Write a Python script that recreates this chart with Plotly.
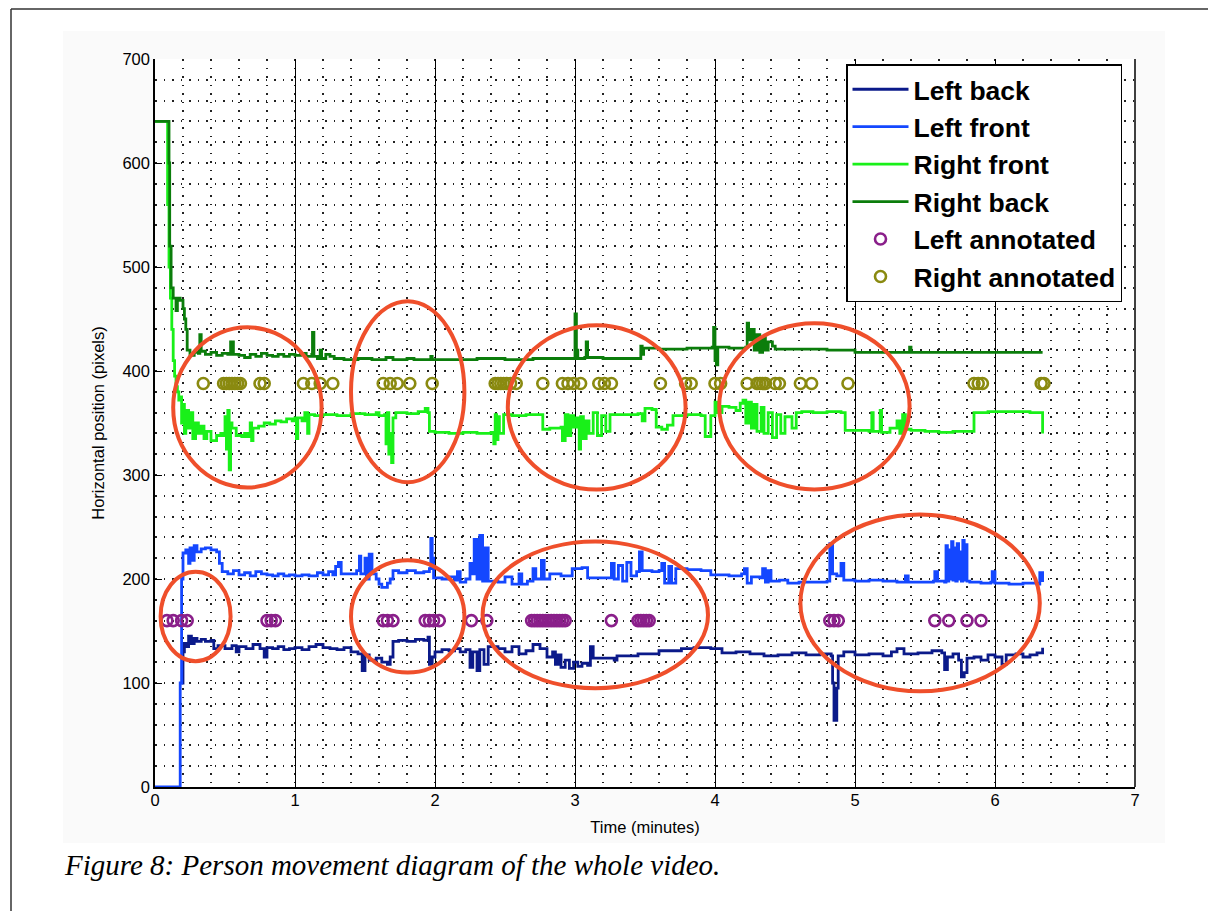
import plotly.graph_objects as go

# ---------------- data ----------------
# Right back (dark green)
rb_t = [0.00, 0.09, 0.10, 0.105, 0.115, 0.13, 0.15, 0.16, 0.18, 0.20, 0.21, 0.22, 0.23, 0.25, 0.28, 0.31, 0.32, 0.33,
        0.36, 0.40, 0.44, 0.48, 0.52, 0.54, 0.56, 0.60, 0.64, 0.68, 0.72, 0.76, 0.80, 0.84, 0.88, 0.92, 0.96, 1.00,
        1.04, 1.08, 1.12, 1.125, 1.135, 1.16, 1.18, 1.19, 1.22, 1.25, 1.28, 1.35, 1.45, 1.55, 1.65, 1.70, 1.80, 1.85,
        1.97, 1.98, 2.10, 2.30, 2.50, 2.70, 2.90, 2.99, 3.00, 3.01, 3.02, 3.07, 3.08, 3.09, 3.20, 3.35, 3.46, 3.47,
        3.48, 3.49, 3.60, 3.80, 3.98, 3.99, 4.00, 4.01, 4.02, 4.10, 4.22, 4.23, 4.24, 4.26, 4.28, 4.30, 4.32, 4.34,
        4.36, 4.38, 4.41, 4.43, 4.60, 4.80, 4.97, 5.00, 5.20, 5.38, 5.39, 5.40, 5.60, 5.90, 6.10, 6.34]
rb_v = [640, 640, 600, 520, 480, 470, 458, 470, 468, 460, 450, 440, 420, 415, 418, 417, 435, 419,
        416, 418, 415, 417, 416, 428, 416, 415, 413, 416, 414, 417, 415, 414, 416, 414, 416, 415,
        417, 414, 416, 437, 414, 412, 420, 412, 416, 414, 412, 411, 412, 411, 413, 411, 412, 411,
        414, 411, 411, 412, 411, 412, 412, 412, 455, 420, 412, 413, 428, 413, 412, 412, 412, 424,
        416, 422, 421, 422, 423, 442, 410, 406, 423, 422, 423, 446, 430, 440, 420, 435, 418, 432,
        420, 428, 424, 421, 421, 420, 420, 418, 418, 418, 423, 418, 418, 418, 418, 418]

# Right front (bright green)
rf_t = [0.00, 0.085, 0.09, 0.10, 0.11, 0.12, 0.13, 0.14, 0.15, 0.16, 0.17, 0.18, 0.19, 0.20, 0.21, 0.22, 0.24,
        0.26, 0.27, 0.29, 0.31, 0.33, 0.35, 0.37, 0.40, 0.44, 0.47, 0.49, 0.50, 0.51, 0.52, 0.53, 0.54, 0.55,
        0.58, 0.62, 0.64, 0.66, 0.68, 0.69, 0.70, 0.74, 0.78, 0.82, 0.86, 0.90, 0.94, 0.98, 1.00, 1.01, 1.02,
        1.05, 1.07, 1.09, 1.10, 1.14, 1.20, 1.30, 1.40, 1.50, 1.58, 1.60, 1.64, 1.65, 1.66, 1.67, 1.68, 1.69,
        1.70, 1.72, 1.80, 1.88, 1.93, 1.95, 1.96, 2.00, 2.10, 2.20, 2.30, 2.40, 2.42, 2.43, 2.44, 2.45, 2.46,
        2.49, 2.55, 2.65, 2.76, 2.77, 2.82, 2.90, 2.91, 2.93, 2.95, 2.97, 2.99, 3.01, 3.03, 3.04, 3.06, 3.08,
        3.10, 3.13, 3.16, 3.19, 3.22, 3.25, 3.35, 3.45, 3.48, 3.50, 3.55, 3.58, 3.62, 3.66, 3.70, 3.80, 3.90,
        3.93, 3.97, 4.00, 4.02, 4.05, 4.10, 4.15, 4.18, 4.20, 4.22, 4.24, 4.26, 4.28, 4.30, 4.33, 4.35, 4.38,
        4.41, 4.44, 4.47, 4.50, 4.55, 4.58, 4.62, 4.70, 4.80, 4.90, 4.93, 5.00, 5.10, 5.12, 5.13, 5.18, 5.19,
        5.25, 5.30, 5.32, 5.34, 5.36, 5.40, 5.50, 5.60, 5.70, 5.80, 5.85, 5.95, 6.10, 6.25, 6.33, 6.34]
rf_v = [640, 640, 560, 500, 470, 440, 410, 395, 385, 380, 372, 375, 350, 368, 340, 362, 345,
        360, 335, 350, 340, 347, 335, 342, 333, 338, 340, 338, 356, 325, 362, 305, 350, 345,
        338, 337, 340, 337, 350, 333, 345, 347, 350, 349, 352, 351, 354, 352, 355, 335, 355,
        352, 360, 340, 358, 357, 358, 357, 359, 358, 360, 357, 358, 330, 360, 320, 340, 312,
        355, 360, 359, 361, 364, 360, 342, 341, 340, 341, 340, 341, 330, 358, 334, 356, 340,
        358, 357, 358, 358, 344, 345, 346, 333, 358, 338, 357, 346, 355, 325, 356, 335, 352,
        340, 360, 338, 357, 342, 358, 358, 359, 352, 364, 363, 346, 344, 348, 357, 358, 357,
        337, 357, 370, 360, 366, 365, 362, 369, 372, 350, 370, 345, 368, 342, 365, 340, 360,
        336, 358, 340, 356, 345, 360, 361, 360, 361, 360, 343, 343, 342, 360, 342, 362, 341,
        345, 352, 340, 358, 344, 343, 342, 341, 342, 342, 360, 361, 361, 360, 360, 340]

# Left front (blue)
lf_t = [0.00, 0.17, 0.18, 0.19, 0.20, 0.22, 0.24, 0.25, 0.27, 0.28, 0.30, 0.33, 0.36, 0.40, 0.44, 0.46, 0.48,
        0.52, 0.56, 0.60, 0.64, 0.68, 0.72, 0.76, 0.80, 0.84, 0.88, 0.92, 0.96, 1.00, 1.05, 1.10, 1.16, 1.20,
        1.24, 1.27, 1.29, 1.31, 1.33, 1.40, 1.44, 1.46, 1.47, 1.50, 1.51, 1.53, 1.55, 1.58, 1.60, 1.62, 1.66,
        1.68, 1.70, 1.74, 1.80, 1.86, 1.92, 1.96, 1.97, 1.98, 1.99, 2.05, 2.10, 2.14, 2.16, 2.18, 2.22, 2.25,
        2.27, 2.28, 2.30, 2.32, 2.34, 2.36, 2.38, 2.45, 2.50, 2.55, 2.60, 2.62, 2.66, 2.70, 2.72, 2.76, 2.78,
        2.82, 2.90, 2.98, 3.05, 3.09, 3.20, 3.26, 3.28, 3.31, 3.34, 3.37, 3.40, 3.44, 3.46, 3.48, 3.55, 3.60,
        3.62, 3.64, 3.67, 3.69, 3.72, 3.80, 3.90, 3.97, 4.10, 4.19, 4.21, 4.23, 4.26, 4.32, 4.34, 4.36, 4.38,
        4.40, 4.46, 4.52, 4.60, 4.70, 4.80, 4.82, 4.84, 4.87, 4.90, 4.92, 5.00, 5.10, 5.20, 5.30, 5.36, 5.38,
        5.50, 5.56, 5.57, 5.59, 5.64, 5.65, 5.66, 5.67, 5.68, 5.69, 5.70, 5.71, 5.72, 5.73, 5.74, 5.75, 5.76,
        5.77, 5.78, 5.79, 5.80, 5.82, 5.90, 5.97, 5.98, 6.00, 6.10, 6.20, 6.30, 6.32, 6.34]
lf_v = [0, 0, 100, 200, 225, 228, 215, 230, 218, 232, 226, 229, 230, 228, 226, 215, 207,
        205, 208, 204, 206, 203, 207, 205, 204, 203, 205, 203, 204, 203, 204, 203, 206, 204,
        207, 204, 212, 216, 205, 205, 208, 222, 205, 220, 200, 224, 205, 200, 195, 192, 196,
        200, 208, 206, 208, 206, 207, 210, 239, 220, 201, 200, 202, 199, 207, 197, 200, 215,
        205, 238, 200, 242, 198, 230, 198, 197, 202, 195, 205, 195, 198, 210, 200, 218, 200,
        205, 203, 210, 211, 201, 201, 215, 200, 213, 198, 216, 203, 207, 226, 208, 207, 208,
        215, 196, 212, 196, 210, 209, 208, 204, 203, 205, 210, 196, 202, 201, 210, 197, 208,
        198, 199, 196, 197, 197, 198, 234, 205, 203, 215, 199, 198, 199, 198, 197, 203, 197,
        197, 198, 207, 198, 197, 232, 198, 228, 200, 236, 199, 230, 198, 234, 200, 226, 198,
        237, 199, 233, 198, 197, 196, 197, 207, 196, 195, 196, 195, 206, 197]

# Left back (navy)
lb_t = [0.19, 0.20, 0.21, 0.23, 0.24, 0.26, 0.28, 0.30, 0.33, 0.36, 0.40, 0.42, 0.45, 0.50, 0.55, 0.58, 0.60,
        0.65, 0.70, 0.75, 0.78, 0.80, 0.84, 0.88, 0.92, 0.96, 1.00, 1.05, 1.10, 1.15, 1.20, 1.25, 1.30, 1.35,
        1.40, 1.45, 1.48, 1.50, 1.53, 1.58, 1.62, 1.66, 1.68, 1.70, 1.74, 1.80, 1.86, 1.92, 1.95, 1.96, 1.98,
        2.00, 2.05, 2.10, 2.14, 2.18, 2.22, 2.25, 2.27, 2.30, 2.32, 2.35, 2.38, 2.45, 2.50, 2.55, 2.60, 2.65,
        2.70, 2.75, 2.80, 2.84, 2.86, 2.88, 2.90, 2.93, 2.96, 2.99, 3.02, 3.05, 3.09, 3.11, 3.13, 3.20, 3.28,
        3.30, 3.40, 3.45, 3.55, 3.60, 3.70, 3.76, 3.85, 3.97, 4.05, 4.15, 4.25, 4.35, 4.45, 4.55, 4.65, 4.75,
        4.83, 4.84, 4.85, 4.87, 4.88, 4.92, 5.00, 5.10, 5.20, 5.26, 5.30, 5.35, 5.45, 5.55, 5.62, 5.64, 5.66,
        5.70, 5.74, 5.76, 5.78, 5.80, 5.85, 5.90, 5.95, 6.00, 6.05, 6.08, 6.15, 6.20, 6.25, 6.30, 6.34]
lb_v = [100, 130, 138, 135, 145, 138, 143, 140, 142, 140, 141, 133, 136, 133, 136, 130, 135,
        133, 137, 133, 125, 134, 133, 135, 132, 133, 134, 132, 135, 137, 134, 133, 132, 134,
        130, 128, 112, 127, 122, 124, 120, 118, 125, 140, 141, 140, 142, 141, 144, 118, 125,
        130, 132, 131, 133, 130, 132, 115, 130, 112, 132, 118, 135, 133, 130, 135, 128, 131,
        137, 133, 125, 130, 118, 127, 115, 122, 114, 120, 116, 119, 117, 135, 124, 124, 122,
        126, 126, 128, 128, 131, 131, 133, 134, 133, 129, 130, 128, 126, 127, 129, 127, 128,
        126, 100, 64, 95, 126, 130, 127, 128, 126, 130, 133, 128, 129, 131, 129, 113, 125,
        128, 122, 106, 110, 124, 125, 122, 127, 125, 118, 127, 128, 125, 127, 129, 134]

# Annotated positions
left_annot_t = [0.085, 0.13, 0.19, 0.23, 0.80, 0.83, 0.86, 1.63, 1.66, 1.70, 1.93, 1.96, 1.99, 2.03, 2.26,
                2.37, 2.69, 2.71, 2.73, 2.75, 2.77, 2.79, 2.81, 2.83, 2.85, 2.87, 2.89, 2.91, 2.93, 3.26,
                3.45, 3.47, 3.49, 3.51, 3.53, 4.82, 4.85, 4.88, 5.57, 5.67, 5.80, 5.90]
left_annot_v = [160, 160, 160, 160, 160, 160, 160, 160, 160, 160, 160, 160, 160, 160, 160,
                160, 160, 160, 160, 160, 160, 160, 160, 160, 160, 160, 160, 160, 160, 160,
                160, 160, 160, 160, 160, 160, 160, 160, 160, 160, 160, 160]
right_annot_t = [0.345, 0.49, 0.51, 0.53, 0.55, 0.57, 0.59, 0.61, 0.75, 0.78, 1.06, 1.12, 1.18, 1.27, 1.63,
                 1.68, 1.73, 1.82, 1.98, 2.43, 2.45, 2.47, 2.49, 2.51, 2.54, 2.58, 2.77, 2.91, 2.95, 2.99,
                 3.04, 3.17, 3.21, 3.26, 3.61, 3.79, 3.83, 4.00, 4.04, 4.23, 4.30, 4.32, 4.34, 4.36, 4.43,
                 4.46, 4.61, 4.69, 4.95, 5.85, 5.88, 5.91, 6.33, 6.35]
right_annot_v = [388, 388, 388, 388, 388, 388, 388, 388, 388, 388, 388, 388, 388, 388, 388,
                 388, 388, 388, 388, 388, 388, 388, 388, 388, 388, 388, 388, 388, 388, 388,
                 388, 388, 388, 388, 388, 388, 388, 388, 388, 388, 388, 388, 388, 388, 388,
                 388, 388, 388, 388, 388, 388, 388, 388, 388]

# Highlight ellipses: (t0, t1, v0, v1)
ellipses = [(0.13, 1.19, 288, 442), (1.40, 2.21, 293, 467), (2.52, 3.79, 286, 444), (4.03, 5.39, 286, 446),
            (0.04, 0.54, 121, 207), (1.40, 2.21, 110, 218), (2.34, 3.95, 95, 236), (4.61, 6.32, 92, 262)]

x_ticks = [0, 1, 2, 3, 4, 5, 6, 7]
y_ticks = [0, 100, 200, 300, 400, 500, 600, 700]

# ---------------- figure ----------------
FONT = "Arial, Liberation Sans, Helvetica, sans-serif"
LW = 2.8
fig = go.Figure()
fig.add_trace(go.Scatter(x=lb_t, y=lb_v, mode="lines", name="Left back", line_shape="hv",
                         line=dict(color="#0b1a8a", width=LW)))
fig.add_trace(go.Scatter(x=lf_t, y=lf_v, mode="lines", name="Left front", line_shape="hv",
                         line=dict(color="#1447ff", width=LW)))
fig.add_trace(go.Scatter(x=rf_t, y=rf_v, mode="lines", name="Right front", line_shape="hv",
                         line=dict(color="#19f019", width=LW)))
fig.add_trace(go.Scatter(x=rb_t, y=rb_v, mode="lines", name="Right back", line_shape="hv",
                         line=dict(color="#0b7d0b", width=LW)))
fig.add_trace(go.Scatter(x=left_annot_t, y=left_annot_v, mode="markers", name="Left annotated",
                         marker=dict(symbol="circle-open", size=11, color="#8a1f8a", line=dict(width=2.6))))
fig.add_trace(go.Scatter(x=right_annot_t, y=right_annot_v, mode="markers", name="Right annotated",
                         marker=dict(symbol="circle-open", size=11, color="#8a8a10", line=dict(width=2.6))))

# The page body adds an 8px offset, so page pixel p maps to figure pixel p - 8.
OFF = 8
W, H = 1216, 911
PL, PR, PT, PB = 155, 1135, 59, 787          # plot area in page pixels
L, T = PL - OFF, PT - OFF
R, B = W - (PR - OFF), H - (PB - OFF)
pw, ph = PR - PL, PB - PT


def px2paper_x(px):
    return (px - PL) / pw


def px2paper_y(py):
    return (PB - py) / ph


shapes = [
    # light grey figure background
    dict(type="rect", xref="paper", yref="paper", layer="below",
         x0=px2paper_x(63), x1=px2paper_x(1165), y0=px2paper_y(843), y1=px2paper_y(31),
         fillcolor="#fafafa", line=dict(width=0)),
    # white axes area
    dict(type="rect", xref="paper", yref="paper", layer="below",
         x0=0, x1=1, y0=0, y1=1, fillcolor="white", line=dict(width=0)),
    # page frame lines
    dict(type="line", xref="paper", yref="paper", x0=px2paper_x(11), x1=px2paper_x(11),
         y0=px2paper_y(9), y1=px2paper_y(930), line=dict(color="#333333", width=1.5)),
    dict(type="line", xref="paper", yref="paper", x0=px2paper_x(11), x1=px2paper_x(1240),
         y0=px2paper_y(9), y1=px2paper_y(9), line=dict(color="#333333", width=1.5)),
    # right axis line
    dict(type="line", xref="paper", yref="paper", x0=1, x1=1, y0=0, y1=1,
         line=dict(color="black", width=1.5)),
]
for (a, b, c, d) in ellipses:
    shapes.append(dict(type="circle", xref="x", yref="y", x0=a, x1=b, y0=c, y1=d,
                       line=dict(color="#ef4f2b", width=4)))

dot = "1.5px,7px"
fig.update_layout(
    width=W, height=H,
    margin=dict(l=L, r=R, t=T, b=B, pad=0),
    paper_bgcolor="white", plot_bgcolor="rgba(0,0,0,0)",
    font=dict(family=FONT, color="black"),
    showlegend=True,
    legend=dict(x=px2paper_x(846), y=px2paper_y(64), xanchor="left", yanchor="top",
                bgcolor="white", bordercolor="black", borderwidth=1.5,
                font=dict(family=FONT, size=26.5, color="black", weight="bold"),
                itemwidth=56, tracegroupgap=0),
    shapes=shapes,
    annotations=[dict(xref="paper", yref="paper", x=px2paper_x(62), y=px2paper_y(865),
                      xanchor="left", yanchor="middle", showarrow=False,
                      text="<i>Figure 8: Person movement diagram of the whole video.</i>",
                      font=dict(family="Times New Roman, Liberation Serif, serif", size=29, color="black"))],
)
fig.update_xaxes(
    range=[0, 7], tickvals=x_ticks, ticktext=[str(v) for v in x_ticks],
    ticks="inside", ticklen=7, tickwidth=1.2, tickcolor="black",
    showline=True, linecolor="black", linewidth=1.5, mirror=False, zeroline=False,
    showgrid=True, gridcolor="black", gridwidth=1, griddash="solid",
    minor=dict(dtick=0.2, showgrid=True, gridcolor="#222222", gridwidth=1.5, griddash=dot),
    tickfont=dict(size=16.5, family=FONT), ticklabelstandoff=-3,
    title=dict(text="Time (minutes)", font=dict(size=16.5, family=FONT), standoff=14),
    automargin=False,
)
fig.update_yaxes(
    range=[0, 700], tickvals=y_ticks, ticktext=[str(v) for v in y_ticks],
    ticks="inside", ticklen=7, tickwidth=1.2, tickcolor="black",
    showline=True, linecolor="black", linewidth=1.5, zeroline=False,
    showgrid=True, gridcolor="#222222", gridwidth=1.5, griddash=dot,
    minor=dict(dtick=20, showgrid=True, gridcolor="#222222", gridwidth=1.5, griddash=dot),
    tickfont=dict(size=16.5, family=FONT), ticklabelstandoff=0,
    title=dict(text="Horizontal position (pixels)", font=dict(size=16.5, family=FONT), standoff=14),
    automargin=False,
)

fig.write_html("out.html")
